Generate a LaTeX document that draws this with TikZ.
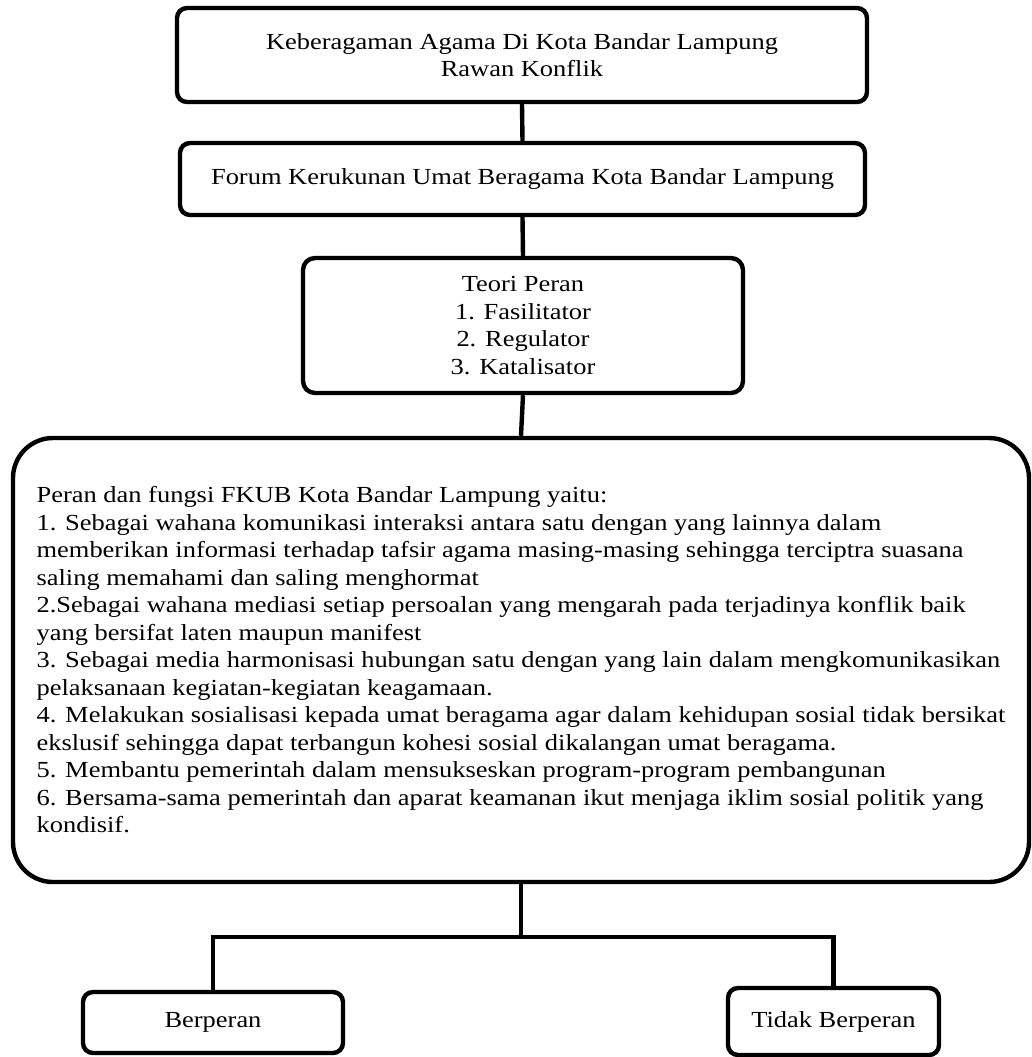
\documentclass[tikz,border=0pt]{standalone}
\usepackage{fontspec}
\setmainfont{Liberation Serif}[FakeStretch=1.15]
\usetikzlibrary{positioning}

\begin{document}
\begin{tikzpicture}[x=0.5pt,y=-0.5pt,
  kotak/.style={draw,line width=2.2pt,rounded corners=5pt,inner sep=0pt,align=center,
    font=\fontsize{11.5}{13.75}\selectfont},
  garis/.style={line width=2.2pt}]
\useasboundingbox (0,0) rectangle (1032,1057);
% kotak utama
\node[kotak,minimum width=345pt,minimum height=47pt] (isu) at (522,55)
  {Keberagaman Agama Di Kota Bandar Lampung\\Rawan Konflik};
\node[kotak,minimum width=342.5pt,minimum height=36pt] (fkub) at (522.5,179)
  {Forum Kerukunan Umat Beragama Kota Bandar Lampung};
\node[kotak,rounded corners=6pt,minimum width=220pt,minimum height=67.5pt] (teori) at (523,325.5)
  {Teori Peran\\1. Fasilitator\\2. Regulator\\3. Katalisator};
\node[kotak,align=left,rounded corners=20pt,minimum width=508pt,minimum height=222pt] (fungsi) at (521,660)
  {Peran dan fungsi FKUB Kota Bandar Lampung yaitu:\\
   1. Sebagai wahana komunikasi interaksi antara satu dengan yang lainnya dalam\\
   memberikan informasi terhadap tafsir agama masing-masing sehingga terciptra suasana\\
   saling memahami dan saling menghormat\\
   2.Sebagai wahana mediasi setiap persoalan yang mengarah pada terjadinya konflik baik\\
   yang bersifat laten maupun manifest\\
   3. Sebagai media harmonisasi hubungan satu dengan yang lain dalam mengkomunikasikan\\
   pelaksanaan kegiatan-kegiatan keagamaan.\\
   4. Melakukan sosialisasi kepada umat beragama agar dalam kehidupan sosial tidak bersikat\\
   ekslusif sehingga dapat terbangun kohesi sosial dikalangan umat beragama.\\
   5. Membantu pemerintah dalam mensukseskan program-program pembangunan\\
   6. Bersama-sama pemerintah dan aparat keamanan ikut menjaga iklim sosial politik yang\\
   kondisif.};
% hasil
\node[kotak,minimum width=130pt,minimum height=30.5pt] (berperan) at (213,1022.5) {Berperan};
\node[kotak,minimum width=105.5pt,minimum height=33.5pt] (tidak) at (833.5,1021.5) {Tidak Berperan};
% garis penghubung
\coordinate (cabang) at (fungsi.south |- 0,937);
\draw[garis] (isu.south) -- (fkub.north);
\draw[garis] (fkub.south) -- (teori.north);
\draw[garis] (teori.south) -- (fungsi.north);
\draw[garis] (fungsi.south) -- (cabang);
\draw[garis] (berperan.north) |- (cabang) -| (tidak.north);
\end{tikzpicture}
\end{document}
